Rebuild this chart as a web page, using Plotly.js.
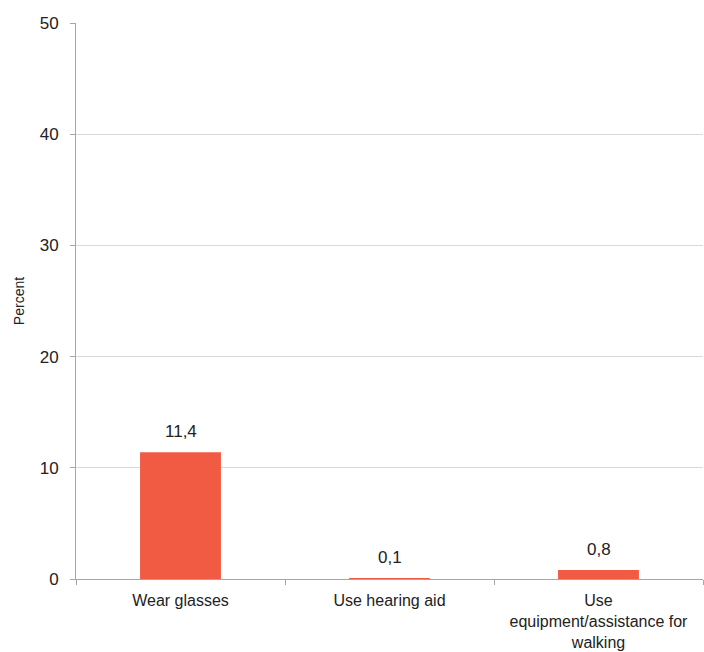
<!DOCTYPE html>
<html>
<head>
<meta charset="utf-8">
<script src="https://cdn.plot.ly/plotly-3.0.1.min.js"></script>
<style>html,body{margin:0;padding:0;background:#fff;}#chart{width:704px;height:652px;}</style>
</head>
<body>
<div id="chart"></div>
<script>
var categories = ["Wear glasses", "Use hearing aid", "Use<br>equipment/assistance for<br>walking"];
var values = [11.4, 0.1, 0.8];
var valueLabels = ["11,4", "0,1", "0,8"];
var yTicks = [0, 10, 20, 30, 40, 50];

var FONT = "Liberation Sans, Arial, sans-serif";

var trace = {
  type: "bar",
  x: categories,
  y: values,
  marker: {color: "#F15A43"},
  hoverinfo: "skip"
};

var annotations = categories.map(function (c, i) {
  return {
    x: c,
    y: values[i],
    xref: "x",
    yref: "y",
    text: valueLabels[i],
    showarrow: false,
    yanchor: "bottom",
    yshift: 9,
    font: {family: FONT, size: 17, color: "#222"}
  };
});

var layout = {
  width: 704,
  height: 652,
  margin: {l: 76, r: 1, t: 23, b: 73},
  paper_bgcolor: "#fff",
  plot_bgcolor: "#fff",
  bargap: 0.613,
  showlegend: false,
  font: {family: FONT, size: 17, color: "#222"},
  annotations: annotations,
  xaxis: {
    type: "category",
    showline: true,
    linecolor: "#a6a6a6",
    linewidth: 1,
    ticks: "outside",
    tickson: "boundaries",
    ticklen: 5,
    tickcolor: "#a6a6a6",
    showgrid: false,
    ticklabelstandoff: 7,
    tickfont: {family: FONT, size: 16, color: "#222"}
  },
  yaxis: {
    range: [0, 50],
    tickvals: yTicks,
    showline: true,
    linecolor: "#a6a6a6",
    linewidth: 1,
    ticks: "outside",
    ticklen: 5,
    tickcolor: "#a6a6a6",
    showgrid: true,
    gridcolor: "#d9d9d9",
    zeroline: false,
    ticklabelstandoff: 8,
    tickfont: {family: FONT, size: 17, color: "#222"},
    title: {text: "Percent", font: {family: FONT, size: 14, color: "#222"}, standoff: 11}
  }
};

Plotly.newPlot("chart", [trace], layout, {displayModeBar: false, staticPlot: true});
</script>
</body>
</html>
